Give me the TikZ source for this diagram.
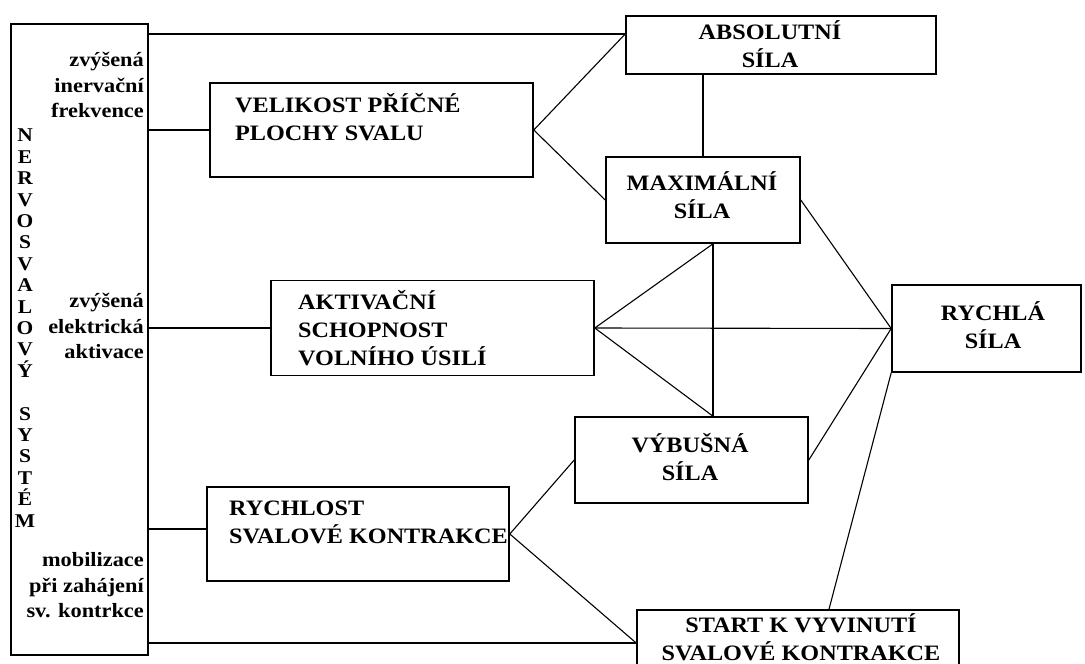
\documentclass[tikz,border=0pt]{standalone}
\usepackage{fontspec}
\setmainfont{Liberation Serif}[FakeStretch=1.1]
\newcommand\tstrut{\rule{0pt}{24pt}}
\begin{document}
\begin{tikzpicture}[x=1pt,y=-1pt,
  bx/.style={draw, line width=1.6pt, inner sep=0pt},
  link/.style={line width=1.1pt},
  btxt/.style={inner sep=0pt, font=\fontsize{22}{28}\selectfont\bfseries},
  ltxt/.style={inner sep=0pt, align=right, anchor=north east, font=\fontsize{20.3}{25.5}\selectfont\bfseries},
  vtxt/.style={inner sep=0pt, align=center, anchor=north, font=\fontsize{19.5}{21.4}\selectfont\bfseries}]
\useasboundingbox (0,0) rectangle (1085,664);
\fill[white] (0,0) rectangle (1085,664);
% boxes
\node[bx, minimum width=137pt, minimum height=631pt] (ns) at (79.5,339.5) {};
\node[bx, minimum width=323pt, minimum height=94pt] (vel) at (371.5,130) {};
\node[bx, minimum width=310pt, minimum height=58pt] (abs) at (781,45) {};
\node[bx, minimum width=194pt, minimum height=86pt] (max) at (703,200) {};
\node[bx, minimum width=323pt, minimum height=95pt] (akt) at (432.5,328) {};
\node[bx, minimum width=189pt, minimum height=87pt] (ryf) at (986.5,328.5) {};
\node[bx, minimum width=233pt, minimum height=86pt] (vyb) at (691.5,460) {};
\node[bx, minimum width=302pt, minimum height=94pt] (rych) at (358,534) {};
\node[bx, minimum width=322pt, minimum height=66pt] (start) at (798,643) {};
% texts
\node[btxt, align=left, anchor=north west] (velt) at (235,88.5) {\tstrut VELIKOST PŘÍČNÉ\\PLOCHY SVALU};
\node[btxt, align=center, anchor=north] (abst) at (770,15.5) {\tstrut ABSOLUTNÍ\\SÍLA};
\node[btxt, align=center, anchor=north] (maxt) at (702,166.5) {\tstrut MAXIMÁLNÍ\\SÍLA};
\node[btxt, align=left, anchor=north west] (aktt) at (298,285.5) {\tstrut AKTIVAČNÍ\\SCHOPNOST\\VOLNÍHO ÚSILÍ};
\node[btxt, align=center, anchor=north] (ryft) at (993,296.5) {\tstrut RYCHLÁ\\SÍLA};
\node[btxt, align=center, anchor=north] (vybt) at (690,428.5) {\tstrut VÝBUŠNÁ\\SÍLA};
\node[btxt, align=left, anchor=north west] (rycht) at (229,491.5) {\tstrut RYCHLOST\\SVALOVÉ KONTRAKCE};
\node[btxt, align=center, anchor=north] (startt) at (801,608.5) {\tstrut START K VYVINUTÍ\\SVALOVÉ KONTRAKCE};
\node[ltxt] (lab1) at (144,42.7) {\tstrut zvýšená\\inervační\\frekvence};
\node[ltxt] (lab2) at (144,283.7) {\tstrut zvýšená\\elektrická\\aktivace};
\node[ltxt] (lab3) at (144,542.7) {\tstrut mobilizace\\při zahájení\\sv. kontrkce};
\node[vtxt] (nst) at (25,117.6) {\tstrut N\\E\\R\\V\\O\\S\\V\\A\\L\\O\\V\\Ý\\[21.4pt]S\\Y\\S\\T\\É\\M};
% connection points
\coordinate (absL) at ([yshift=11pt]abs.west);
\coordinate (mb) at ([xshift=10pt]max.south);
\coordinate (vt) at ([xshift=21.5pt]vyb.north);
\coordinate (st) at ([xshift=31pt]start.north);
\coordinate (rychL) at ([yshift=5pt]rych.west);
% connectors
\draw[link] (ns.east |- absL) -- (absL);
\draw[link] (ns.east |- vel.west) -- (vel.west);
\draw[link] (ns.east |- akt.west) -- (akt.west);
\draw[link] (ns.east |- rychL) -- (rychL);
\draw[link] (ns.east |- start.west) -- (start.west);
\draw[link] (vel.east) -- (absL);
\draw[link] (vel.east) -- (max.west);
\draw[link] (max.north |- abs.south) -- (max.north);
\draw[link] (akt.east) -- (mb);
\draw[link] (akt.east) -- (ryf.west);
\draw[link] (akt.east) -- (vt);
\draw[link] (mb) -- (vt);
\draw[link] (max.east) -- (ryf.west);
\draw[link] (vyb.east) -- (ryf.west);
\draw[link] (ryf.south west) -- (st);
\draw[link] (rych.east) -- (vyb.west);
\draw[link] (rych.east) -- (start.west);
\end{tikzpicture}
\end{document}
